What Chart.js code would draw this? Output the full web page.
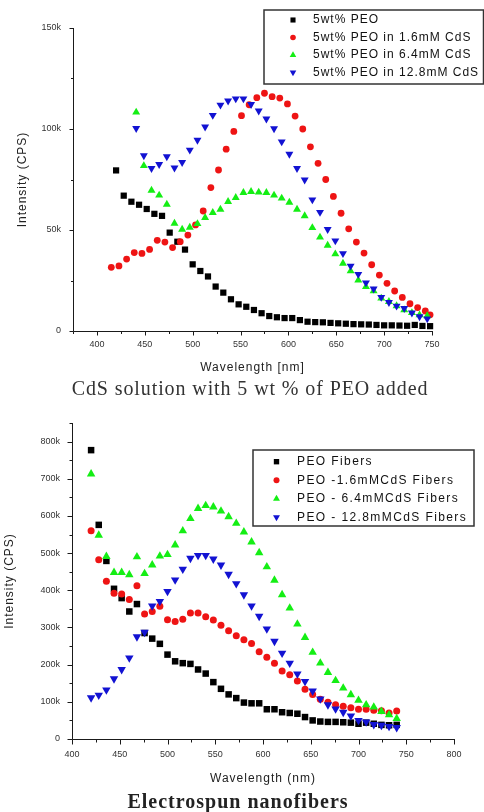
<!DOCTYPE html>
<html>
<head>
<meta charset="utf-8">
<script src="https://cdn.jsdelivr.net/npm/chart.js@4.4.1/dist/chart.umd.min.js"></script>
<style>
  body { margin: 0; background: #fff; }
  #page { position: relative; width: 484px; height: 812px; overflow: hidden; }
  canvas { position: absolute; left: 0; }
  .cap { position: absolute; white-space: nowrap; transform: translateX(-50%);
         font-family: "Liberation Serif", "Times New Roman", serif; font-size: 20px; line-height: 24px; color: #333; }
</style>
</head>
<body>
<div id="page">
  <canvas id="cds" width="484" height="380" style="top:0"></canvas>
  <canvas id="fiber" width="484" height="395" style="top:400px"></canvas>
  <div class="cap" style="left:250px; top:376px; letter-spacing:0.9px">CdS solution with 5 wt % of PEO added</div>
  <div class="cap" style="left:238px; top:789px; font-weight:bold; letter-spacing:1px; color:#222">Electrospun nanofibers</div>
</div>
<script>
// ---- CdS solution with 5 wt % PEO (intensity in thousands of CPS) ----
var cdsLabels = ['5wt% PEO', '5wt% PEO in 1.6mM CdS', '5wt% PEO in 6.4mM CdS', '5wt% PEO in 12.8mM CdS'];
var cdsPeoWl = [420,428,436,444,452,460,468,476,484,492,500,508,516,524,532,540,548,556,564,572,580,588,596,604,612,620,628,636,644,652,660,668,676,684,692,700,708,716,724,732,740,748];
var cdsPeo = [79.5,67,64,62.5,60.4,58,57,48.7,44.2,40.3,33,29.7,27,22,19,15.7,13.2,12,10.4,8.8,7.4,6.8,6.4,6.4,5.4,4.6,4.4,4.3,4.0,3.8,3.6,3.4,3.3,3.2,3.0,2.8,2.8,2.7,2.6,3.0,2.5,2.4];
var cdsLowWl = [415,423,431,439,447,455,463,471,479,487,495,503,511,519,527,535,543,551,559,567,575,583,591,599,607,615,623,631,639,647,655,663,671,679,687,695,703,711,719,727,735,743,748];
var cdsLow = [31.5,32.2,35.6,38.8,38.4,40.4,44.9,44,41.3,44.2,47.5,52.5,59.4,71,79.7,90,98.8,106.6,112,115.5,117.7,116,115.3,112.4,106.4,100,91.2,83,75,66.6,58.3,50.6,44,38.6,32.8,27.7,23.6,19.8,16.6,13.5,11.6,9.9,8];
var cdsLateWl = [441,449,457,465,473,481,489,497,505,513,521,529,537,545,553,561,569,577,585,593,601,609,617,625,633,641,649,657,665,673,681,689,697,705,713,721,729,737,745];
var cdsMid = [108.3,81.8,69.6,67.2,62.7,53.3,50.3,51.3,53.1,56.1,58.6,60.2,64,66,68.5,69,68.7,68.5,67.2,65.7,63.7,60.2,57,51.1,46.4,42.4,38.1,33.5,29.7,25.2,21.9,19.8,16.2,14.5,12.4,10.4,9,7.9,7.5];
var cdsHigh = [100.3,86.8,80.5,82.5,86.3,80.8,83.5,89.6,94.5,101.1,106.8,111.9,113.9,115,115,112.2,109,105,100.2,93.7,87.6,80.5,74.8,65,58.8,50.3,44.7,38.4,32.2,28.1,23.9,20.9,16.7,14.2,12.4,11.2,9,7.1,6.1];
var cdsXTicks = [400,450,500,550,600,650,700,750];
var cdsYTicks = [0,50,100,150];

// ---- Electrospun nanofibers (intensity in thousands of CPS) ----
var fiberLabels = ['PEO Fibers', 'PEO -1.6mMCdS Fibers', 'PEO - 6.4mMCdS Fibers', 'PEO - 12.8mMCdS Fibers'];
var fiberWl = [420,428,436,444,452,460,468,476,484,492,500,508,516,524,532,540,548,556,564,572,580,588,596,604,612,620,628,636,644,652,660,668,676,684,692,700,708,716,724,732,740];
var fiberPeo = [777,576,479,404,379,343,363,285,270,256,227,209,204,202,187,176,153,135,120,110,98,96,96,80,80,72,70,68,59,50,47,46,46,45,44,41,44,41,38,37,38];
var fiberLow = [560,482,424,392,390,375,412,336,343,357,321,316,322,339,339,329,320,306,291,278,267,257,235,220,204,183,173,156,134,120,107,99,92,88,84,80,80,77,76,70,75];
var fiberMid = [713,548,491,448,448,442,490,445,468,492,496,522,560,593,620,628,624,613,598,580,557,530,501,463,427,388,352,309,273,233,204,179,157,137,119,104,92,86,74,65,55];
var fiberHigh = [111,118,132,162,187,218,275,287,358,370,397,428,457,486,494,494,484,468,443,418,388,358,330,296,263,231,204,175,155,129,108,92,81,72,62,50,46,39,37,34,31];
var fiberXTicks = [400,450,500,550,600,650,700,750,800];
var fiberYTicks = [0,100,200,300,400,500,600,700,800];

var markers = [
  { pointStyle: 'rect', rotation: 0, color: '#000000' },
  { pointStyle: 'circle', rotation: 0, color: '#ee1414' },
  { pointStyle: 'triangle', rotation: 0, color: '#14ee14' },
  { pointStyle: 'triangle', rotation: 180, color: '#1212d2' }
];
var SANS = '"Liberation Sans", Arial, sans-serif';

function series(label, wl, vals, i, radii) {
  var m = markers[i];
  return {
    label: label,
    data: wl.map(function (x, k) { return { x: x, y: vals[k] }; }),
    pointStyle: m.pointStyle,
    rotation: m.rotation,
    pointRotation: m.rotation,
    backgroundColor: m.color,
    borderColor: m.color,
    pointRadius: radii[i],
    pointBorderWidth: 0,
    order: 3 - i,
    clip: false
  };
}

function axis(min, max, ticks, pad, size, isX) {
  return {
    type: 'linear', min: min, max: max,
    grid: { display: false, drawTicks: false },
    border: { display: false },
    afterBuildTicks: function (s) { s.ticks = ticks.map(function (v) { return { value: v }; }); },
    afterFit: function (s) { if (isX) s.height = size; else s.width = size; },
    ticks: {
      padding: pad, autoSkip: false, maxRotation: 0, color: '#333',
      font: { family: SANS, size: 9 },
      callback: function (v) { return v === 0 ? '0' : (isX ? String(v) : v + 'k'); }
    }
  };
}

// axis lines, major/minor tick marks, axis titles and the boxed legend
var decor = {
  id: 'decor',
  afterDraw: function (chart, args, o) {
    var ctx = chart.ctx, a = chart.chartArea, xs = chart.scales.x, ys = chart.scales.y;
    ctx.save();
    ctx.strokeStyle = '#1a1a1a';
    ctx.lineWidth = 1;
    var L = Math.round(a.left) + 0.5, B = Math.round(a.bottom) + 0.5;
    ctx.beginPath();
    ctx.moveTo(L, Math.round(a.top));
    ctx.lineTo(L, B);
    ctx.lineTo(Math.round(a.right) + 1, B);
    var v, p, len;
    for (v = xs.min; v <= xs.max + 1e-6; v += o.xStep) {
      p = Math.round(xs.getPixelForValue(v)) + 0.5;
      len = o.xMajor.indexOf(v) >= 0 ? o.major : o.minor;
      ctx.moveTo(p, B); ctx.lineTo(p, B + len);
    }
    for (v = ys.min; v <= ys.max + 1e-6; v += o.yStep) {
      p = Math.round(ys.getPixelForValue(v)) + 0.5;
      len = o.yMajor.indexOf(v) >= 0 ? o.major : o.minor;
      ctx.moveTo(L, p); ctx.lineTo(L - len, p);
    }
    ctx.stroke();

    ctx.fillStyle = '#222';
    ctx.font = '12px ' + SANS;
    ctx.letterSpacing = '1px';
    ctx.textAlign = 'center';
    ctx.textBaseline = 'middle';
    ctx.fillText(o.xTitle, (a.left + a.right) / 2, o.xTitleY);
    ctx.save();
    ctx.translate(o.yTitleX, (a.top + a.bottom) / 2);
    ctx.rotate(-Math.PI / 2);
    ctx.fillText(o.yTitle, 0, 0);
    ctx.restore();

    var lg = o.legend;
    ctx.fillStyle = '#fff';
    ctx.fillRect(lg.x, lg.y, lg.w, lg.h);
    ctx.lineWidth = 1.5;
    ctx.strokeStyle = '#333';
    ctx.strokeRect(lg.x, lg.y, lg.w, lg.h);
    ctx.letterSpacing = lg.spacing;
    ctx.textAlign = 'left';
    chart.data.datasets.forEach(function (ds, i) {
      var y = lg.y + lg.row0 + i * lg.rowH;
      ctx.fillStyle = ds.backgroundColor;
      Chart.helpers.drawPoint(ctx, { pointStyle: ds.pointStyle, rotation: ds.pointRotation, radius: lg.radii[i], borderWidth: 0 }, lg.markX, y);
      ctx.fillStyle = '#111';
      ctx.fillText(ds.label, lg.textX, y);
    });
    ctx.restore();
  }
};

new Chart(document.getElementById('cds'), {
  type: 'scatter',
  data: {
    datasets: [
      series(cdsLabels[0], cdsPeoWl, cdsPeo, 0, [4.4, 3.4, 4.6, 4.6]),
      series(cdsLabels[1], cdsLowWl, cdsLow, 1, [4.4, 3.4, 4.6, 4.6]),
      series(cdsLabels[2], cdsLateWl, cdsMid, 2, [4.4, 3.4, 4.6, 4.6]),
      series(cdsLabels[3], cdsLateWl, cdsHigh, 3, [4.4, 3.4, 4.6, 4.6])
    ]
  },
  options: {
    responsive: false,
    devicePixelRatio: 1,
    animation: false,
    layout: { padding: { top: 28, right: 52, left: 0, bottom: 0 } },
    scales: {
      x: axis(375, 750, cdsXTicks, 8, 49, true),
      y: axis(0, 150, cdsYTicks, 12, 73, false)
    },
    plugins: {
      legend: { display: false },
      tooltip: { enabled: false },
      decor: {
        xStep: 25, yStep: 25, xMajor: cdsXTicks, yMajor: cdsYTicks, major: 4, minor: 2.5,
        xTitle: 'Wavelength [nm]', xTitleY: 368, yTitle: 'Intensity (CPS)', yTitleX: 23,
        legend: { x: 264, y: 10, w: 219.5, h: 74, row0: 10, rowH: 17.5, markX: 293, textX: 313,
                  spacing: '1px', radii: [3.6, 2.8, 3.8, 3.8] }
      }
    }
  },
  plugins: [decor]
});

new Chart(document.getElementById('fiber'), {
  type: 'scatter',
  data: {
    datasets: [
      series(fiberLabels[0], fiberWl, fiberPeo, 0, [4.6, 3.5, 4.9, 4.9]),
      series(fiberLabels[1], fiberWl, fiberLow, 1, [4.6, 3.5, 4.9, 4.9]),
      series(fiberLabels[2], fiberWl, fiberMid, 2, [4.6, 3.5, 4.9, 4.9]),
      series(fiberLabels[3], fiberWl, fiberHigh, 3, [4.6, 3.5, 4.9, 4.9])
    ]
  },
  options: {
    responsive: false,
    devicePixelRatio: 1,
    animation: false,
    layout: { padding: { top: 23, right: 30, left: 0, bottom: 0 } },
    scales: {
      x: axis(400, 800, fiberXTicks, 10, 56, true),
      y: axis(0, 850, fiberYTicks, 12, 72, false)
    },
    plugins: {
      legend: { display: false },
      tooltip: { enabled: false },
      decor: {
        xStep: 25, yStep: 50, xMajor: fiberXTicks, yMajor: fiberYTicks, major: 5, minor: 3,
        xTitle: 'Wavelength (nm)', xTitleY: 379, yTitle: 'Intensity (CPS)', yTitleX: 10,
        legend: { x: 253, y: 50, w: 221, h: 76, row0: 11.7, rowH: 18.5, markX: 276.5, textX: 297,
                  spacing: '1.4px', radii: [3.8, 3, 4, 4] }
      }
    }
  },
  plugins: [decor]
});
</script>
</body>
</html>
